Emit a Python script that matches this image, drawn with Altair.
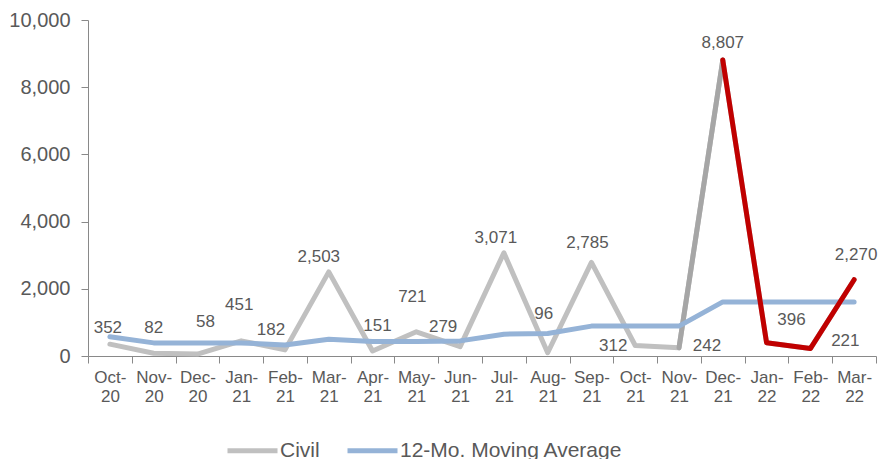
import altair as alt
import pandas as pd

months = ["Oct-20", "Nov-20", "Dec-20", "Jan-21", "Feb-21", "Mar-21", "Apr-21", "May-21",
          "Jun-21", "Jul-21", "Aug-21", "Sep-21", "Oct-21", "Nov-21", "Dec-21", "Jan-22",
          "Feb-22", "Mar-22"]
civil = [352, 82, 58, 451, 182, 2503, 151, 721, 279, 3071, 96, 2785, 312, 242, 8807, 396, 221, 2270]
moving_avg = [570, 390, 390, 390, 330, 500, 430, 430, 450, 650, 670, 890, 890, 890, 1610, 1610, 1610, 1610]
series_names = ["Civil", "12-Mo. Moving Average"]
dark_months = ["Nov-21", "Dec-21"]
red_months = ["Dec-21", "Jan-22", "Feb-22", "Mar-22"]

# data-label nudges (pixels, relative to each point) as placed in the original
label_dx = [-2, 0, 8, -2, -14, -10, 5, -4, -17, -8, -4, -4, -22, 28, 0, 25, 35, 2]
label_dy = [-16, -25, -32, -36, -20, -15, -25, -35, -20, -15, -39, -19, 0, -2, -17, -23, -8, -25]

FONT = "Liberation Sans"
TXT = "#595959"
AXIS = "#898989"

rows = []
for i, m in enumerate(months):
    rows.append({"month": m, "value": int(civil[i]), "series": series_names[0], "idx": i})
for i, m in enumerate(months):
    rows.append({"month": m, "value": int(moving_avg[i]), "series": series_names[1], "idx": i})
df = pd.DataFrame(rows)
civ = df[df.series == series_names[0]].reset_index(drop=True)
ma = df[df.series == series_names[1]].reset_index(drop=True)
df_dark = civ[civ.month.isin(dark_months)].reset_index(drop=True)
df_red = civ[civ.month.isin(red_months)].reset_index(drop=True)

x = alt.X("month:N", sort=months, title=None,
          scale=alt.Scale(type="band", paddingInner=0, paddingOuter=0),
          axis=alt.Axis(labelAngle=0, tickBand="extent", tickSize=7, tickColor=AXIS,
                        domainColor=AXIS, labelColor=TXT, labelFont=FONT, labelFontSize=17,
                        labelLineHeight=19, labelPadding=6,
                        labelExpr="[slice(datum.label,0,4), slice(datum.label,4)]"))
y = alt.Y("value:Q", title=None,
          scale=alt.Scale(domain=[0, 10000], nice=False),
          axis=alt.Axis(values=[0, 2000, 4000, 6000, 8000, 10000], format=",d", grid=False,
                        tickSize=7, tickColor=AXIS, domainColor=AXIS, labelColor=TXT,
                        labelFont=FONT, labelFontSize=20, labelPadding=11))

color_scale = alt.Scale(domain=series_names, range=["#c0c0c0", "#95b3d7"])
color = alt.Color("series:N", scale=color_scale,
                  legend=alt.Legend(title=None, orient="none", direction="horizontal",
                                    legendX=137, legendY=403,
                                    symbolType="stroke", symbolStrokeWidth=5, symbolSize=2500,
                                    labelFont=FONT, labelFontSize=21, labelColor=TXT,
                                    labelLimit=400, columnPadding=17, labelOffset=0))

line_style = dict(strokeWidth=5, strokeJoin="round", strokeCap="round")

gray = alt.Chart(civ).mark_line(**line_style).encode(x=x, y=y, order="idx:Q", color=color)
dark = alt.Chart(df_dark).mark_line(color="#a6a6a6", **line_style).encode(x=x, y=y, order="idx:Q")
blue = alt.Chart(ma).mark_line(**line_style).encode(x=x, y=y, order="idx:Q", color=color)
red = alt.Chart(df_red).mark_line(color="#c00000", **line_style).encode(x=x, y=y, order="idx:Q")

label_layers = []
for i, m in enumerate(months):
    label_layers.append(
        alt.Chart(civ[civ.month == m]).mark_text(
            font=FONT, fontSize=17, color=TXT, baseline="middle", align="center",
            dx=label_dx[i], dy=label_dy[i]
        ).encode(x=x, y=y, text=alt.Text("value:Q", format=",d"))
    )

chart = alt.layer(gray, dark, blue, red, *label_layers).properties(
    width=788, height=336,
    autosize=alt.AutoSizeParams(type="none"),
    padding={"left": 80, "top": 12, "right": 2, "bottom": 110},
).configure_view(strokeWidth=0)

chart.save("out.html", embed_options={"renderer": "svg", "actions": False})
